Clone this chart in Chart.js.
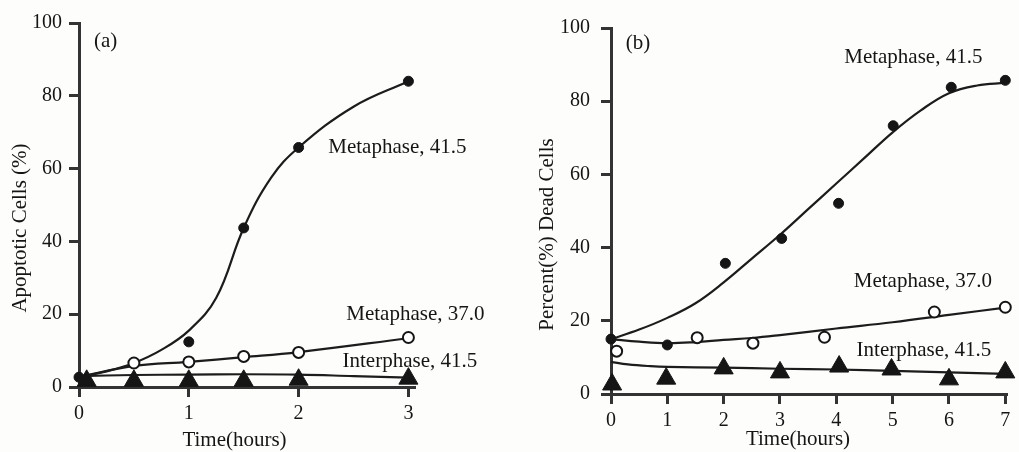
<!DOCTYPE html>
<html><head><meta charset="utf-8">
<script src="https://cdn.jsdelivr.net/npm/chart.js@4"></script>
<style>
html,body{margin:0;padding:0;background:#fdfdfb;overflow:hidden;}
#wrap{position:relative;width:1019px;height:452px;overflow:hidden;}
.pane{position:absolute;top:0;height:452px;}
</style></head><body>
<div id="wrap">
<div class="pane" style="left:0;width:510px"><canvas id="ca"></canvas></div>
<div class="pane" style="left:510px;width:509px"><canvas id="cb"></canvas></div>
</div>
<script>
// ---------- Tick labels ----------
const yTicks = [0, 20, 40, 60, 80, 100];
const aXTicks = [0, 1, 2, 3];
const bXTicks = [0, 1, 2, 3, 4, 5, 6, 7];
const seriesNames = ['Metaphase, 41.5', 'Metaphase, 37.0', 'Interphase, 41.5'];
const aYTitle = 'Apoptotic Cells (%)';
const bYTitle = 'Percent(%) Dead Cells';
const xTitle = 'Time(hours)';

// ---------- Panel (a) measured points ----------
const aMeta415X = [0, 1, 1.5, 2, 3];
const aMeta415Y = [2.7, 12.4, 43.7, 65.8, 84];
const aMeta370X = [0.5, 1, 1.5, 2, 3];
const aMeta370Y = [6.6, 6.9, 8.4, 9.5, 13.6];
const aInter415X = [0.07, 0.5, 1, 1.5, 2, 3];
const aInter415Y = [1.7, 1.7, 1.7, 1.7, 2.0, 2.3];
// Panel (a) fitted curves
const aFitMeta415X = [0, 0.25, 0.5, 0.75, 1, 1.25, 1.5, 1.75, 2, 2.5, 3];
const aFitMeta415Y = [2.7, 4.3, 6.6, 10.2, 15.5, 24.5, 43.7, 57.5, 65.8, 77, 84];
const aFitMeta370X = [0, 0.5, 1, 1.5, 2, 3];
const aFitMeta370Y = [2.7, 5.8, 6.9, 8.2, 9.6, 13.4];
const aFitInter415X = [0, 0.5, 1, 1.5, 2, 2.5, 3];
const aFitInter415Y = [3.0, 3.3, 3.4, 3.5, 3.4, 3.0, 2.6];

// ---------- Panel (b) measured points ----------
const bMeta415X = [0, 1, 2.03, 3.03, 4.04, 5.01, 6.04, 7];
const bMeta415Y = [15, 13.4, 35.7, 42.5, 52.1, 73.3, 83.8, 85.7];
const bMeta370X = [0.1, 1.53, 2.52, 3.79, 5.74, 7];
const bMeta370Y = [11.7, 15.4, 13.9, 15.5, 22.4, 23.7];
const bInter415X = [0.02, 0.98, 2.0, 3.0, 4.05, 4.98, 6.0, 7.0];
const bInter415Y = [2.6, 4.2, 7.0, 5.9, 7.5, 6.7, 4.0, 5.9];
// Panel (b) fitted curves
const bFitMeta415X = [0, 0.5, 1, 1.5, 2, 2.5, 3, 3.5, 4, 4.5, 5, 5.5, 6, 6.5, 7];
const bFitMeta415Y = [15, 17.6, 20.8, 24.8, 30.5, 37, 43.5, 50.5, 57.5, 64.5, 71.5, 77.5, 82.2, 84.3, 85];
const bFitMeta370X = [0, 0.5, 1, 1.5, 2, 2.5, 3, 4, 5, 6, 7];
const bFitMeta370Y = [15, 14.3, 13.9, 14.2, 14.8, 15.3, 16.1, 17.9, 19.6, 21.6, 23.6];
const bFitInter415X = [0, 0.3, 0.7, 1, 2, 3, 4, 5, 6, 7];
const bFitInter415Y = [8.8, 8.1, 7.6, 7.4, 7.2, 6.9, 6.7, 6.3, 5.9, 5.5];

// ---------- helpers ----------
const FONT = "'Liberation Serif', 'Times New Roman', serif";
const INK = '#151515';
const AX = '#333333';
const zip = (xs, ys) => xs.map((x, i) => ({x, y: ys[i]}));

function markerSet(xs, ys, kind) {
  const base = {data: zip(xs, ys), showLine: false, clip: false, order: 0};
  if (kind === 'filled') return Object.assign(base, {pointStyle: 'circle', pointRadius: 5, backgroundColor: INK, borderColor: INK, borderWidth: 1});
  if (kind === 'open') return Object.assign(base, {pointStyle: 'circle', pointRadius: 5.5, backgroundColor: '#ffffff', borderColor: INK, borderWidth: 2});
  return Object.assign(base, {pointStyle: 'triangle', pointRadius: 11, backgroundColor: INK, borderColor: INK, borderWidth: 1});
}
function curveSet(xs, ys) {
  return {data: zip(xs, ys), showLine: true, pointRadius: 0, borderColor: '#1c1c1c', borderWidth: 2.2,
          tension: 0.4, clip: false, order: 1, fill: false};
}

const annotPlugin = {
  id: 'annot',
  afterDraw(chart, args, opts) {
    const ctx = chart.ctx;
    const xs = chart.scales.x, ys = chart.scales.y;
    ctx.save();
    ctx.fillStyle = INK;
    ctx.font = '21px ' + FONT;
    ctx.textBaseline = 'middle';
    ctx.textAlign = 'left';
    (opts.items || []).forEach(it => {
      ctx.fillText(it.text, xs.getPixelForValue(it.x), ys.getPixelForValue(it.y));
    });
    const t = opts.titles;
    ctx.textAlign = 'center';
    ctx.textBaseline = 'alphabetic';
    ctx.fillText(t.x.text, t.x.px, t.x.py);
    ctx.textBaseline = 'middle';
    ctx.translate(t.y.px, t.y.py);
    ctx.rotate(-Math.PI / 2);
    ctx.fillText(t.y.text, 0, 0);
    ctx.restore();
  }
};

function makeChart(id, cfg) {
  return new Chart(document.getElementById(id), {
    type: 'scatter',
    data: {datasets: cfg.datasets},
    plugins: [annotPlugin],
    options: {
      responsive: true, maintainAspectRatio: false, animation: false,
      layout: {padding: cfg.padding},
      plugins: {legend: {display: false}, tooltip: {enabled: false}, annot: cfg.annot},
      scales: {
        x: {
          type: 'linear', min: cfg.xMin, max: cfg.xMax,
          afterBuildTicks: s => { s.ticks = cfg.xTicks.map(v => ({value: v})); },
          afterFit: s => { s.height = cfg.xH; s.paddingLeft = 0; s.paddingRight = 0; },
          grid: {display: true, drawOnChartArea: false, drawTicks: true, tickLength: cfg.xTickLen, tickColor: AX, tickWidth: 3, color: AX},
          border: {display: true, color: AX, width: 3},
          ticks: {font: {family: FONT, size: 20}, color: INK, padding: cfg.xPad, autoSkip: false, maxRotation: 0}
        },
        y: {
          type: 'linear', min: 0, max: 100,
          afterBuildTicks: s => { s.ticks = yTicks.map(v => ({value: v})); },
          afterFit: s => { s.width = cfg.yW; s.paddingTop = 0; s.paddingBottom = 0; },
          grid: {display: true, drawOnChartArea: false, drawTicks: true, tickLength: 10, tickColor: AX, tickWidth: 3, color: AX},
          border: {display: true, color: AX, width: 3},
          ticks: {font: {family: FONT, size: 20}, color: INK, padding: cfg.yPad}
        }
      }
    }
  });
}

makeChart('ca', {
  datasets: [
    markerSet(aInter415X, aInter415Y, 'tri'),
    markerSet(aMeta370X, aMeta370Y, 'open'),
    markerSet(aMeta415X, aMeta415Y, 'filled'),
    curveSet(aFitMeta415X, aFitMeta415Y),
    curveSet(aFitMeta370X, aFitMeta370Y),
    curveSet(aFitInter415X, aFitInter415Y)
  ],
  padding: {left: 0, right: 95, top: 23, bottom: 0},
  xMin: 0, xMax: 3.06, xTicks: aXTicks, xH: 65, xTickLen: 10, xPad: 5,
  yW: 79, yPad: 7,
  annot: {
    items: [
      {text: '(a)', x: 0.137, y: 95},
      {text: seriesNames[0], x: 2.27, y: 65.9},
      {text: seriesNames[1], x: 2.434, y: 19.8},
      {text: seriesNames[2], x: 2.40, y: 7.1}
    ],
    titles: {x: {text: xTitle, px: 234.5, py: 446}, y: {text: aYTitle, px: 20, py: 228}}
  }
});

makeChart('cb', {
  datasets: [
    markerSet(bInter415X, bInter415Y, 'tri'),
    markerSet(bMeta370X, bMeta370Y, 'open'),
    markerSet(bMeta415X, bMeta415Y, 'filled'),
    curveSet(bFitMeta415X, bFitMeta415Y),
    curveSet(bFitMeta370X, bFitMeta370Y),
    curveSet(bFitInter415X, bFitInter415Y)
  ],
  padding: {left: 0, right: 0, top: 28, bottom: 0},
  xMin: 0, xMax: 7.03, xTicks: bXTicks, xH: 58, xTickLen: 10, xPad: 5,
  yW: 101, yPad: 11,
  annot: {
    items: [
      {text: '(b)', x: 0.26, y: 95.8},
      {text: seriesNames[0], x: 4.14, y: 92},
      {text: seriesNames[1], x: 4.31, y: 30.8},
      {text: seriesNames[2], x: 4.36, y: 12}
    ],
    titles: {x: {text: xTitle, px: 288, py: 445}, y: {text: bYTitle, px: 37, py: 234.5}}
  }
});
</script>
</body></html>
